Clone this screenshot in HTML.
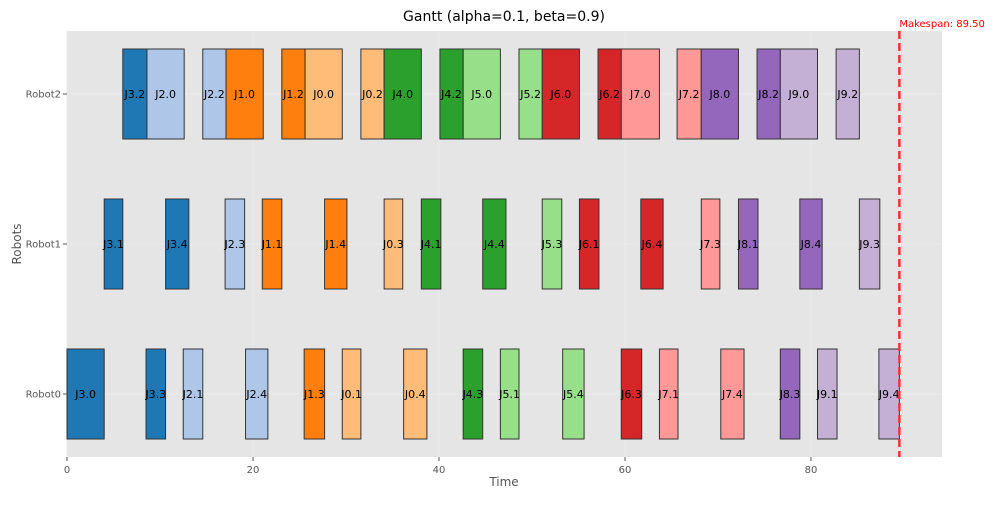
<!DOCTYPE html>
<html><head><meta charset="utf-8"><style>
body{margin:0;background:#fff;font-family:"Liberation Sans","DejaVu Sans",sans-serif}
svg text{font-family:"DejaVu Sans","Liberation Sans",sans-serif}
</style></head><body>
<svg id="chart" width="1000" height="500" xmlns="http://www.w3.org/2000/svg">
<rect x="67" y="31" width="875" height="426" fill="#e5e5e5"/>
<g id="grid"></g><g id="bars"></g><g id="axes"></g>
<text x="504" y="21" text-anchor="middle" font-size="14" fill="#000">Gantt (alpha=0.1, beta=0.9)</text>
<text x="504" y="486" text-anchor="middle" font-size="12" fill="#555">Time</text>
<text x="21" y="244" text-anchor="middle" font-size="12" fill="#555" transform="rotate(-90 21 244)">Robots</text>
</svg>
<script>
const robots=["Robot0","Robot1","Robot2"];
const taskLabels=[
"J3.2","J2.0","J2.2","J1.0","J1.2","J0.0","J0.2","J4.0","J4.2","J5.0","J5.2","J6.0","J6.2","J7.0","J7.2","J8.0","J8.2","J9.0","J9.2",
"J3.1","J3.4","J2.3","J1.1","J1.4","J0.3","J4.1","J4.4","J5.3","J6.1","J6.4","J7.3","J8.1","J8.4","J9.3",
"J3.0","J3.3","J2.1","J2.4","J1.3","J0.1","J0.4","J4.3","J5.1","J5.4","J6.3","J7.1","J7.4","J8.3","J9.1","J9.4"];
const taskRobot=[2,2,2,2,2,2,2,2,2,2,2,2,2,2,2,2,2,2,2,
1,1,1,1,1,1,1,1,1,1,1,1,1,1,1,
0,0,0,0,0,0,0,0,0,0,0,0,0,0,0,0];
const taskStart=[6.0,8.6,14.6,17.1,23.1,25.6,31.6,34.1,40.1,42.6,48.6,51.1,57.1,59.6,65.6,68.2,74.2,76.7,82.7,
4.0,10.6,17.0,21.0,27.7,34.1,38.1,44.7,51.1,55.1,61.7,68.2,72.2,78.8,85.2,
0.0,8.5,12.5,19.2,25.5,29.6,36.2,42.6,46.6,53.3,59.6,63.7,70.3,76.7,80.7,87.3];
const taskEnd=[8.6,12.6,17.1,21.1,25.6,29.6,34.1,38.1,42.6,46.6,51.1,55.1,59.6,63.7,68.2,72.2,76.7,80.7,85.2,
6.0,13.1,19.1,23.1,30.1,36.1,40.2,47.2,53.2,57.2,64.1,70.2,74.3,81.2,87.4,
4.0,10.6,14.6,21.6,27.7,31.6,38.7,44.7,48.6,55.6,61.8,65.7,72.8,78.8,82.8,89.5];
const xTicks=[0,20,40,60,80];
const makespan=89.5;
const jobColors=["#ffbb78","#ff7f0e","#aec7e8","#1f77b4","#2ca02c","#98df8a","#d62728","#ff9896","#9467bd","#c5b0d5"];
const NS="http://www.w3.org/2000/svg";
const X=v=>67+v*9.3;
const Y=v=>394-v*150;
function mk(tag,attrs,parent,txt){const e=document.createElementNS(NS,tag);for(const k in attrs)e.setAttribute(k,attrs[k]);if(txt!==undefined)e.textContent=txt;parent.appendChild(e);return e;}
const grid=document.getElementById('grid'),bars=document.getElementById('bars'),axes=document.getElementById('axes');
xTicks.forEach(t=>{
 const g=mk('line',{x1:X(t),x2:X(t),y1:31,y2:457,stroke:'#ebebeb','stroke-width':1},grid);
 
 
 const tk=mk('line',{x1:X(t),x2:X(t),y1:457,y2:461,stroke:'#555'},axes);
 
 
 const l=mk('text',{x:X(t),y:473,'text-anchor':'middle','font-size':10,fill:'#555'},axes,String(t));
 
 
});
robots.forEach((r,i)=>{
 const g=mk('line',{x1:67,x2:942,y1:Y(i),y2:Y(i),stroke:'#ebebeb'},grid);
 
 
 const tk=mk('line',{x1:63,x2:67,y1:Y(i),y2:Y(i),stroke:'#555'},axes);
 
 
 const l=mk('text',{x:61,y:Y(i)+3.5,'text-anchor':'end','font-size':10,fill:'#555'},axes,r);
 
 
});
taskLabels.forEach((lab,i)=>{
 const job=parseInt(lab.slice(1));
 const x0=X(taskStart[i]),x1=X(taskEnd[i]),yc=Y(taskRobot[i]);
 const r=mk('rect',{x:x0,y:yc-45,width:x1-x0,height:90,fill:jobColors[job],stroke:'#333','stroke-width':1},bars);
 
 
 const t=mk('text',{x:(x0+x1)/2,y:yc+4,'text-anchor':'middle','font-size':11,fill:'#000'},bars,lab);
 
 
});
const ml=mk('line',{x1:X(makespan),x2:X(makespan),y1:31,y2:457,stroke:'#ff3333','stroke-width':2.5,'stroke-dasharray':'8,4'},axes);


const mt=mk('text',{x:X(makespan),y:27,'font-size':10,fill:'#ff0000'},axes,'Makespan: '+makespan.toFixed(2));


</script>
</body></html>
